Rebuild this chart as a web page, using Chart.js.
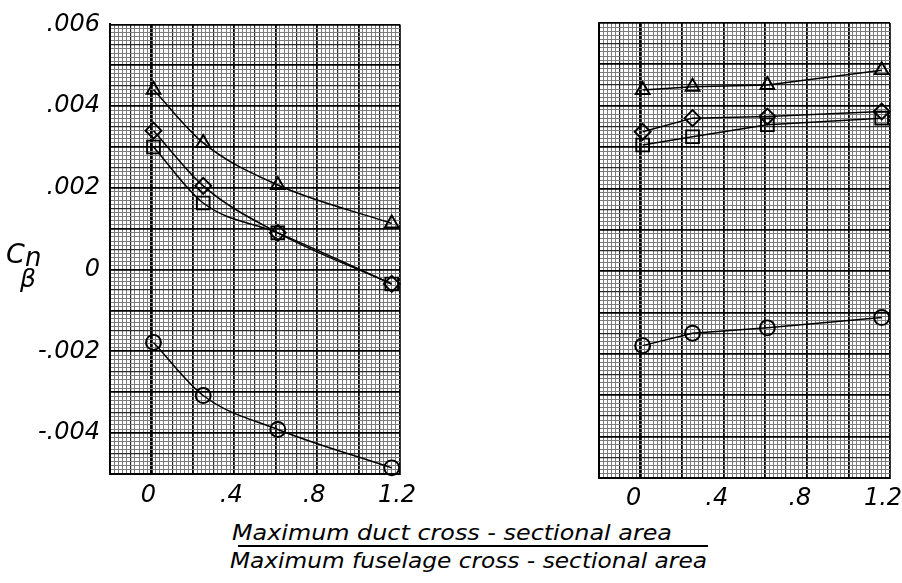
<!DOCTYPE html>
<html><head><meta charset="utf-8">
<script src="https://cdn.jsdelivr.net/npm/chart.js@4.4.0/dist/chart.umd.min.js"></script>
<style>
html,body{margin:0;padding:0;background:#fff;width:902px;height:583px;overflow:hidden;position:relative;}
canvas{position:absolute;top:0;}
#cL{left:0;} #cR{left:450px;}
.lbl{position:absolute;font-family:'DejaVu Sans';font-style:italic;color:#000;white-space:nowrap;transform-origin:0 0;font-size:22px;line-height:22px;}
</style></head>
<body>
<canvas id="cL" width="450" height="520"></canvas>
<canvas id="cR" width="452" height="520"></canvas>
<div class="lbl" id="t1" style="left:232px;top:522px;">Maximum duct cross - sectional area</div>
<div id="bar" style="position:absolute;left:238px;top:545px;width:470px;height:0;border-top:2px solid #000;"></div>
<div class="lbl" id="t2" style="left:230px;top:550px;">Maximum fuselage cross - sectional area</div>
<div class="lbl" style="left:6px;top:240px;font-size:27px;line-height:27px;">C</div>
<div class="lbl" style="left:25px;top:244px;font-size:26px;line-height:26px;">n</div>
<div class="lbl" style="left:20px;top:266px;font-size:25px;line-height:25px;">β</div>
<script>
// ---- data ----
const xValues = [0.01, 0.25, 0.61, 1.16];

const leftTriangle = [0.0044, 0.0031, 0.00207, 0.00113];
const leftDiamond  = [0.0034, 0.00205, 0.0009, -0.00035];
const leftSquare   = [0.0030, 0.00163, 0.0009, -0.00035];
const leftCircle   = [-0.00178, -0.00308, -0.00391, -0.00485];

const rightTriangle = [0.00438, 0.00446, 0.0045, 0.00486];
const rightDiamond  = [0.00337, 0.0037, 0.00374, 0.00386];
const rightSquare   = [0.00305, 0.00325, 0.00354, 0.0037];
const rightCircle   = [-0.0018, -0.0015, -0.00137, -0.00112];

const xTickValues = [0, 0.4, 0.8, 1.2];
const xTickLabels = ['0', '.4', '.8', '1.2'];
const yTickValues = [0.006, 0.004, 0.002, 0, -0.002, -0.004];
const yTickLabels = ['.006', '.004', '.002', '0', '-.002', '-.004'];

// ---- helpers ----
function pts(ys){ return ys.map((y,i)=>({x:xValues[i], y})); }
function lookup(vals, labels, v, tol){
  for (let i=0;i<vals.length;i++) if (Math.abs(vals[i]-v) < tol) return labels[i];
  return '';
}
function gridColor(step){
  return ctx => {
    const n = Math.round(ctx.tick.value/step);
    if (n % 10 === 0) return '#000';
    if (n % 5 === 0) return '#2a2a2a';
    return '#7c7c7c';
  };
}
function gridWidth(step, zeroWide){
  return ctx => {
    const n = Math.round(ctx.tick.value/step);
    if (zeroWide && n === 0) return 2.8;
    if (n % 10 === 0) return 1.8;
    if (n % 5 === 0) return 1.2;
    return 1;
  };
}
const tickFont = {family:'DejaVu Sans', style:'italic', size:24};

function ds(data, style, radius, curved){
  return {
    data, showLine:true, borderColor:'#000', borderWidth:1.5,
    pointStyle:style, pointRadius:radius, pointBorderWidth:1.9,
    pointBorderColor:'#000', pointBackgroundColor:'rgba(0,0,0,0)',
    cubicInterpolationMode: curved ? 'monotone' : 'default',
    tension: curved ? 0.4 : 0, clip:false, fill:false
  };
}

function makeChart(id, sets, cfg){
  return new Chart(document.getElementById(id), {
    type:'line',
    data:{datasets:sets},
    options:{
      responsive:false, animation:false, devicePixelRatio:1,
      layout:{padding:{left:0, top:cfg.top, right:cfg.right, bottom:0}},
      plugins:{legend:{display:false}, tooltip:{enabled:false}},
      scales:{
        x:{type:'linear', min:-0.2, max:1.2,
           ticks:{stepSize:0.02, autoSkip:false, maxRotation:0, font:tickFont, color:'#000',
                  padding:cfg.xPad, labelOffset:cfg.labelOffset,
                  callback:v=>lookup(xTickValues, xTickLabels, v, 1e-6)},
           grid:{drawTicks:false, color:gridColor(0.02), lineWidth:gridWidth(0.02, true)},
           border:{display:true, color:'#000', width:2},
           afterFit:s=>{ s.height = cfg.xHeight; s.paddingRight = 0; s.paddingLeft = 0; }},
        y:{type:'linear', min:-0.005, max:0.006,
           ticks:{stepSize:0.0001, autoSkip:false, display:cfg.yLabels, font:tickFont, color:'#000',
                  padding:10, callback:v=>lookup(yTickValues, yTickLabels, v, 1e-8)},
           grid:{drawTicks:false, color:gridColor(0.0001), lineWidth:gridWidth(0.0001, false)},
           border:{display:true, color:'#000', width:2},
           afterFit:s=>{ s.width = cfg.yWidth; }}
      }
    }
  });
}

makeChart('cL', [
  ds(pts(leftTriangle), 'triangle', 8, true),
  ds(pts(leftDiamond), 'rectRot', 8, true),
  ds(pts(leftSquare), 'rect', 9, true),
  ds(pts(leftCircle), 'circle', 7.5, true)
], {top:19, right:50, xHeight:46, yWidth:110, yLabels:true, xPad:7, labelOffset:-3});

makeChart('cR', [
  ds(pts(rightTriangle), 'triangle', 8, false),
  ds(pts(rightDiamond), 'rectRot', 8, false),
  ds(pts(rightSquare), 'rect', 9, false),
  ds(pts(rightCircle), 'circle', 7.5, false)
], {top:23, right:12, xHeight:42, yWidth:149, yLabels:false, xPad:6, labelOffset:-7});

// fit the two-line axis title to the widths seen in the reference
function fit(id, w){
  const el = document.getElementById(id);
  const cur = el.getBoundingClientRect().width;
  el.style.transform = 'scaleX(' + (w/cur) + ')';
}
fit('t1', 440);
fit('t2', 477);
</script>
</body></html>
